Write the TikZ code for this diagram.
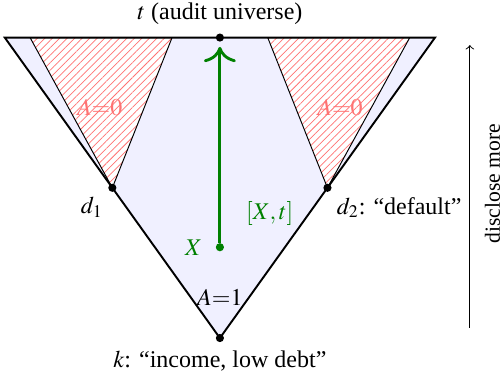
\documentclass[tikz,border=0pt]{standalone}
\usepackage{mathptmx}
\usepackage{fontspec}
\setmainfont{Liberation Serif}
\usetikzlibrary{positioning, patterns.meta, arrows.meta}

\begin{document}
\begin{tikzpicture}[>=to, dot/.style={circle, fill, inner sep=0pt, minimum size=3.4pt},
    zero/.style={fill=white, postaction={pattern={Lines[angle=45, distance=2.2pt, line width=0.3pt]}, pattern color=red!55}},
    zeroline/.style={draw=black, line width=0.4pt}]
      \useasboundingbox (-3.22,-0.64) rectangle (4.16,4.95);

      \coordinate (k0) at (0,0);
      \coordinate (t0) at (0,4.4);
      \coordinate (tl) at (-3.15,4.4);
      \coordinate (tr) at (3.15,4.4);
      \coordinate (d10) at (-1.575,2.2);
      \coordinate (d20) at (1.575,2.2);
      \coordinate (z1a) at (-2.78,4.4);
      \coordinate (z1b) at (-0.70,4.4);
      \coordinate (z2a) at (0.70,4.4);
      \coordinate (z2b) at (2.78,4.4);

      % region below t
      \fill[blue!6] (k0) -- (tl) -- (tr) -- cycle;
      \path[zero] (d10) -- (z1a) -- (z1b) -- cycle;
      \path[zero] (d20) -- (z2a) -- (z2b) -- cycle;
      \path[zeroline] (d10) -- (z1a) -- (z1b) -- cycle;
      \path[zeroline] (d20) -- (z2a) -- (z2b) -- cycle;
      \draw[thick] (k0) -- (tl) -- (tr) -- cycle;

      \node[dot] (k) at (k0) {};
      \node[dot] (t) at (t0) {};
      \node[dot] (d1) at (d10) {};
      \node[dot] (d2) at (d20) {};
      \node[dot, green!50!black] (X) at (0,1.33) {};

      \node (tlab) [above=0pt of t] {$t$ (audit universe)};
      \node (klab) [below=0pt of k] {$k$: ``income, low debt''};
      \node (d1lab) [below left=-1pt and -1pt of d1] {$d_1$};
      \node (d2lab) [below right=-1pt and -1pt of d2] {$d_2$: ``default''};
      \node[green!50!black] (Xlab) [left=2pt of X] {$X$};
      \node[green!50!black] (Xt) at (0.73,1.83) {$[X,t]$};
      \node (a1) [above=8pt of k] {$A{=}1$};
      \node[red!55] (a0l) at (-1.76,3.38) {$A{=}0$};
      \node[red!55] (a0r) at (1.76,3.38) {$A{=}0$};

      \draw[-{To[scale=1.5]}, very thick, green!50!black, shorten >=2pt] (X) -- (t);

      \coordinate (lo) at (3.66,0.15);
      \coordinate (hi) at (3.66,4.29);
      \draw[->] (lo) -- (hi);
      \node[rotate=90, anchor=base, font=\small] (more) at (4.10,2.26) {disclose more};
\end{tikzpicture}
\end{document}
